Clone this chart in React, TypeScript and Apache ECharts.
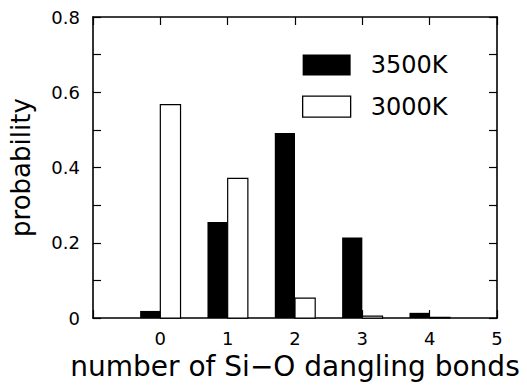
import React, { useEffect, useRef } from "react";
import * as echarts from "echarts";

const categories = [0, 1, 2, 3, 4];
const values3500K = [0.019, 0.255, 0.492, 0.214, 0.014];
const values3000K = [0.567, 0.371, 0.053, 0.005, 0.002];
const seriesNames = ["3500K", "3000K"];
const yTickLabels = ["0", "0.2", "0.4", "0.6", "0.8"];

const FONT = "DejaVu Sans";

function barRenderer(startOff: number, endOff: number) {
  return (params: any, api: any) => {
    const x = api.value(0);
    const y = api.value(1);
    const p0 = api.coord([x + startOff, 0]);
    const p1 = api.coord([x + endOff, y]);
    return {
      type: "rect",
      shape: { x: p0[0], y: p1[1], width: p1[0] - p0[0], height: p0[1] - p1[1] },
      style: api.style(),
    };
  };
}

export default function App() {
  const ref = useRef<HTMLDivElement>(null);
  useEffect(() => {
    if (!ref.current) return;
    const chart = echarts.init(ref.current, null, { renderer: "svg" });
    const axisLine = { show: true, onZero: false, lineStyle: { color: "#000", width: 1.6 } };
    const tick = { show: true, inside: true, length: 8, lineStyle: { color: "#000", width: 1.2 } };
    const yFormatter = (v: number) => {
      const r = Math.round(v * 10);
      if (r % 2 !== 0) return "";
      return yTickLabels[r / 2] ?? "";
    };
    chart.setOption({
      animation: false,
      backgroundColor: "#fff",
      grid: { left: 93, right: 30, top: 17, bottom: 61, containLabel: false },
      legend: {
        orient: "vertical",
        left: 297,
        top: 48,
        itemWidth: 48,
        itemHeight: 21,
        itemGap: 17.7,
        textStyle: { fontFamily: FONT, fontSize: 24, color: "#000", lineHeight: 24, padding: [0, 0, 0, 15] },
        data: [
          { name: seriesNames[0], icon: "rect", itemStyle: { color: "#000", borderWidth: 0 } },
          { name: seriesNames[1], icon: "rect", itemStyle: { color: "#fff", borderColor: "#000", borderWidth: 1.3 } },
        ],
      },
      xAxis: [
        {
          type: "value",
          position: "bottom",
          min: -1,
          max: 5,
          interval: 1,
          axisLine,
          axisTick: tick,
          splitLine: { show: false },
          axisLabel: {
            margin: 11,
            fontFamily: FONT,
            fontSize: 18,
            color: "#000",
            formatter: (v: number) => (v < 0 ? "" : String(v)),
          },
          name: "number of Si\u2212O dangling bonds",
          nameLocation: "middle",
          nameGap: 18,
          nameTextStyle: { fontFamily: FONT, fontSize: 28, color: "#000", lineHeight: 28 },
        },
        {
          type: "value",
          position: "top",
          min: -1,
          max: 5,
          interval: 1,
          axisLine,
          axisTick: tick,
          splitLine: { show: false },
          axisLabel: { show: false },
        },
      ],
      yAxis: [
        {
          type: "value",
          position: "left",
          min: 0,
          max: 0.8,
          interval: 0.1,
          axisLine,
          axisTick: tick,
          splitLine: { show: false },
          axisLabel: {
            margin: 13,
            fontFamily: FONT,
            fontSize: 18,
            color: "#000",
            formatter: yFormatter,
          },
          name: "probability",
          nameLocation: "middle",
          nameGap: 59,
          nameRotate: 90,
          nameTextStyle: { fontFamily: FONT, fontSize: 26, color: "#000" },
        },
        {
          type: "value",
          position: "right",
          min: 0,
          max: 0.8,
          interval: 0.1,
          axisLine,
          axisTick: tick,
          splitLine: { show: false },
          axisLabel: { show: false },
        },
      ],
      series: [
        {
          name: seriesNames[0],
          type: "custom",
          renderItem: barRenderer(-0.3, 0),
          itemStyle: { color: "#000" },
          encode: { x: 0, y: 1 },
          data: categories.map((c, i) => [c, values3500K[i]]),
          z: 2,
        },
        {
          name: seriesNames[1],
          type: "custom",
          renderItem: barRenderer(0, 0.3),
          itemStyle: { color: "#fff", borderColor: "#000", borderWidth: 1.2 },
          encode: { x: 0, y: 1 },
          data: categories.map((c, i) => [c, values3000K[i]]),
          z: 2,
        },
      ],
    });
    return () => chart.dispose();
  }, []);
  return (
    <div
      ref={ref}
      style={{ position: "fixed", left: 0, top: 0, width: 527, height: 385 }}
    />
  );
}
